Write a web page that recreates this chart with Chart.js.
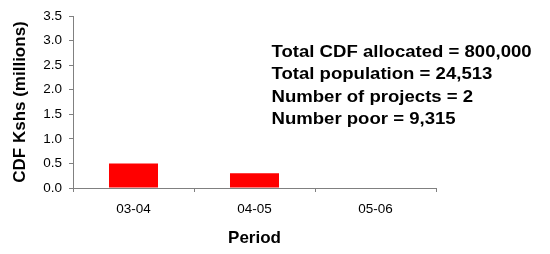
<!DOCTYPE html>
<html lang="en">

<head>
    <meta charset="UTF-8">
    <title>CDF allocation by period</title>
    <script src="https://cdn.jsdelivr.net/npm/chart.js"></script>
    <style>
        html, body { margin: 0; padding: 0; background: #fff; }
        #cdfChart { display: block; }
    </style>
</head>

<body>
    <canvas id="cdfChart" width="550" height="254"></canvas>
    <script>
        // data
        const periods = ['03-04', '04-05', '05-06'];
        const allocations = [0.5, 0.3, 0]; // Kshs millions
        const yTicks = [0, 0.5, 1.0, 1.5, 2.0, 2.5, 3.0, 3.5];
        const summaryLines = [
            'Total CDF allocated = 800,000',
            'Total population = 24,513',
            'Number of projects = 2',
            'Number poor = 9,315'
        ];

        const fontFamily = "'Liberation Sans', Arial, sans-serif";
        const axisColor = '#808080';

        // text block on the right of the plot (slightly wide lettering like the original)
        const summaryText = {
            id: 'summaryText',
            afterDraw(chart) {
                const ctx = chart.ctx;
                ctx.save();
                ctx.fillStyle = '#000';
                ctx.font = 'bold 16px ' + fontFamily;
                ctx.textBaseline = 'alphabetic';
                ctx.textAlign = 'left';
                summaryLines.forEach(function (line, i) {
                    ctx.save();
                    ctx.translate(271.5, 56.5 + i * 22.6);
                    ctx.scale(1.16, 1);
                    ctx.fillText(line, 0, 0);
                    ctx.restore();
                });
                ctx.restore();
            }
        };

        const ctx = document.getElementById('cdfChart').getContext('2d');
        const cdfChart = new Chart(ctx, {
            type: 'bar',
            data: {
                labels: periods,
                datasets: [{
                    label: 'CDF Kshs (millions)',
                    data: allocations,
                    backgroundColor: '#ff0000',
                    borderWidth: 0,
                    barPercentage: 0.405,
                    categoryPercentage: 1.0
                }]
            },
            options: {
                responsive: false,
                animation: false,
                layout: { padding: { top: 16, right: 114, bottom: 0, left: 0 } },
                plugins: {
                    legend: { display: false },
                    tooltip: { enabled: false }
                },
                scales: {
                    y: {
                        min: 0,
                        max: 3.5,
                        afterFit: function (scale) { scale.width = 73; },
                        afterBuildTicks: function (scale) {
                            scale.ticks = yTicks.map(function (v) { return { value: v }; });
                        },
                        ticks: {
                            padding: 7,
                            color: '#000',
                            font: { family: fontFamily, size: 13.5 },
                            callback: function (value) { return Number(value).toFixed(1); }
                        },
                        grid: {
                            drawOnChartArea: false,
                            color: axisColor,
                            tickLength: 4
                        },
                        border: { color: axisColor, width: 1 },
                        title: {
                            display: true,
                            text: 'CDF Kshs (millions)',
                            color: '#000',
                            font: { family: fontFamily, size: 17, weight: 'bold' },
                            padding: { top: 10, bottom: 0 }
                        }
                    },
                    x: {
                        afterFit: function (scale) { scale.height = 254 - 188; },
                        ticks: {
                            padding: 9,
                            color: '#000',
                            font: { family: fontFamily, size: 13.5 },
                            maxRotation: 0
                        },
                        grid: {
                            offset: true,
                            drawOnChartArea: false,
                            color: axisColor,
                            tickLength: 4
                        },
                        border: { color: axisColor, width: 1 },
                        title: {
                            display: true,
                            text: 'Period',
                            color: '#000',
                            font: { family: fontFamily, size: 17, weight: 'bold' },
                            padding: { top: 0, bottom: 5 }
                        }
                    }
                }
            },
            plugins: [summaryText]
        });
    </script>
</body>

</html>
